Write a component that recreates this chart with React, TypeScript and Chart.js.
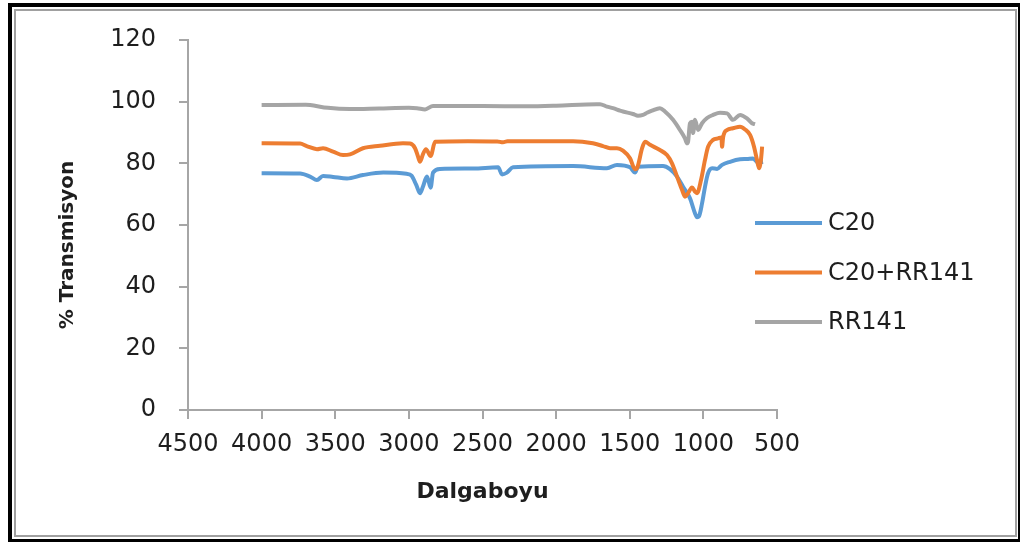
import React, { useEffect, useRef } from "react";
import { Chart, registerables } from "chart.js";

Chart.register(...registerables);

const seriesLabels = ["C20", "C20+RR141", "RR141"];
const seriesColors = ["#5B9BD5", "#ED7D31", "#A5A5A5"];

const xMin = 500;
const xMax = 4500;
const xStep = 500;
const yMin = 0;
const yMax = 120;
const yStep = 20;

const c20Wavenumbers = [
  4000, 3739, 3671, 3624, 3583, 3515, 3420, 3312, 3174, 3016, 2982, 2950, 2924, 2904, 2877, 2852, 2836, 2789,
  2564, 2394, 2367, 2334, 2293, 1885, 1655, 1587, 1498, 1464, 1444, 1274, 1227, 1179, 1138, 1091, 1057, 1043,
  1030, 1009, 989, 968, 941, 907, 873, 819, 751, 704, 663, 629, 595,
];
const c20Transmission = [
  76.8, 76.7, 75.7, 74.6, 75.9, 75.6, 75.1, 76.2, 77.0, 76.6, 76.0, 73.0, 70.3, 72.5, 75.7, 72.1, 77.0, 78.2,
  78.3, 78.7, 76.4, 77.0, 78.7, 79.1, 78.4, 79.5, 78.7, 77.0, 78.9, 79.1, 78.1, 75.7, 72.4, 68.7, 63.8, 62.5,
  62.8, 67.0, 72.4, 76.8, 78.4, 78.2, 79.5, 80.5, 81.3, 81.4, 81.6, 80.2, 80.5,
];

const mixWavenumbers = [
  4000, 3739, 3694, 3624, 3583, 3515, 3447, 3400, 3312, 3196, 3040, 2992, 2958, 2938, 2924, 2904, 2884, 2852,
  2822, 2600, 2400, 2361, 2330, 1885, 1750, 1682, 1634, 1587, 1546, 1498, 1464, 1450, 1416, 1396, 1362, 1295,
  1247, 1213, 1179, 1145, 1125, 1104, 1077, 1057, 1043, 1016, 989, 968, 934, 900, 878, 873, 866, 839, 799, 751,
  717, 683, 656, 636, 622, 608, 601,
];
const mixTransmission = [
  86.5, 86.4, 85.6, 84.6, 84.9, 83.8, 82.7, 82.9, 84.9, 85.7, 86.5, 86.4, 84.9, 82.2, 80.5, 83.0, 84.6, 82.4,
  87.0, 87.2, 87.1, 86.8, 87.2, 87.2, 86.5, 85.6, 84.9, 84.9, 84.1, 81.6, 78.1, 78.5, 84.9, 87.0, 86.0, 84.3,
  82.7, 80.0, 75.7, 71.4, 69.2, 70.3, 72.2, 70.8, 70.3, 74.6, 81.1, 85.4, 87.6, 88.1, 88.4, 85.4, 88.4, 90.8, 91.4, 91.9,
  91.0, 89.2, 85.4, 81.1, 78.4, 81.6, 85.4,
];

const rrWavenumbers = [
  4000, 3700, 3671, 3550, 3400, 3200, 3000, 2945, 2890, 2836, 2500, 2200, 2000, 1724, 1702, 1655, 1614, 1566,
  1546, 1478, 1444, 1410, 1383, 1349, 1295, 1261, 1206, 1159, 1125, 1111, 1104, 1091, 1077, 1070, 1057, 1036,
  1009, 975, 934, 887, 839, 799, 751, 704, 670, 649,
];
const rrTransmission = [
  98.9, 99.0, 98.9, 98.0, 97.6, 97.8, 98.0, 97.9, 97.5, 98.6, 98.6, 98.5, 98.7, 99.2, 99.2, 98.4, 97.9, 97.1,
  96.8, 96.0, 95.4, 95.7, 96.4, 97.1, 97.9, 96.8, 94.1, 90.8, 88.1, 86.5, 87.0, 93.0, 93.5, 89.8, 94.1, 90.8,
  93.0, 94.7, 95.7, 96.4, 96.2, 94.1, 95.7, 94.6, 93.0, 92.7,
];

const pairs = (xs: number[], ys: number[]) => xs.map((x, i) => ({ x, y: ys[i] }));

const FONT = "'DejaVu Sans', sans-serif";
const AXIS_GRAY = "#a6a6a6";
const TEXT = "#1e1e1e";

const sideLegend = {
  id: "sideLegend",
  afterDraw(chart: any) {
    const { ctx, chartArea } = chart;
    ctx.save();
    chart.data.datasets.forEach((ds: any, i: number) => {
      const y = chartArea.top + 183 + i * 49.5;
      const x0 = chartArea.right - 22;
      ctx.strokeStyle = ds.borderColor;
      ctx.lineWidth = 4;
      ctx.lineCap = "butt";
      ctx.beginPath();
      ctx.moveTo(x0, y);
      ctx.lineTo(x0 + 67, y);
      ctx.stroke();
      ctx.fillStyle = TEXT;
      ctx.font = `24px ${FONT}`;
      ctx.textBaseline = "middle";
      ctx.textAlign = "left";
      ctx.fillText(ds.label, x0 + 73, y + 1);
    });
    ctx.restore();
  },
};

export default function App() {
  const canvasRef = useRef<HTMLCanvasElement | null>(null);

  useEffect(() => {
    if (!canvasRef.current) return;
    const data = [
      pairs(c20Wavenumbers, c20Transmission),
      pairs(mixWavenumbers, mixTransmission),
      pairs(rrWavenumbers, rrTransmission),
    ];
    const chart = new Chart(canvasRef.current, {
      type: "line",
      data: {
        datasets: seriesLabels.map((label, i) => ({
          label,
          data: data[i],
          borderColor: seriesColors[i],
          backgroundColor: seriesColors[i],
          borderWidth: 4,
          pointRadius: 0,
          fill: false,
          cubicInterpolationMode: "monotone" as const,
          order: 3 - i,
        })),
      },
      options: {
        animation: false,
        responsive: false,
        layout: { padding: { left: 20, top: 40, right: 243, bottom: 0 } },
        plugins: {
          legend: { display: false },
          tooltip: { enabled: false },
        },
        scales: {
          x: {
            type: "linear",
            reverse: true,
            min: xMin,
            max: xMax,
            afterFit(s: any) {
              s.height = 132;
            },
            ticks: {
              stepSize: xStep,
              maxRotation: 0,
              autoSkip: false,
              padding: 11,
              color: TEXT,
              font: { family: FONT, size: 24 },
              callback: (v: any) => String(v),
            },
            grid: { drawOnChartArea: false, drawTicks: true, tickLength: 9, color: AXIS_GRAY, lineWidth: 2 },
            border: { color: AXIS_GRAY, width: 2 },
            title: {
              display: true,
              text: "Dalgaboyu",
              color: TEXT,
              font: { family: FONT, size: 22, weight: "bold" },
              padding: { top: 0, bottom: 37 },
            },
          },
          y: {
            min: yMin,
            max: yMax,
            afterFit(s: any) {
              s.width = 168;
            },
            ticks: {
              stepSize: yStep,
              padding: 23,
              color: TEXT,
              font: { family: FONT, size: 24 },
              callback: (v: any) => String(v),
            },
            grid: { drawOnChartArea: false, drawTicks: true, tickLength: 9, color: AXIS_GRAY, lineWidth: 2 },
            border: { color: AXIS_GRAY, width: 2 },
            title: {
              display: true,
              text: "% Transmisyon\u2002\u2002\u2002\u2002",
              color: TEXT,
              font: { family: FONT, size: 20, weight: "bold" },
              padding: { top: 36, bottom: 0 },
            },
          },
        },
      },
      plugins: [sideLegend],
    });
    return () => chart.destroy();
  }, []);

  return (
    <div>
      <div
        style={{
          position: "fixed",
          left: 8,
          top: 3,
          width: 1012,
          height: 539,
          boxSizing: "border-box",
          borderTop: "4px solid #000",
          borderLeft: "4px solid #000",
          borderRight: "2px solid #000",
          borderBottom: "3px solid #000",
          background: "#fff",
        }}
      />
      <div
        style={{
          position: "fixed",
          left: 14,
          top: 9,
          width: 1003,
          height: 528,
          boxSizing: "border-box",
          border: "2px solid #a0a0a0",
        }}
      />
      <canvas
        ref={canvasRef}
        width={1020}
        height={542}
        style={{ position: "fixed", left: 0, top: 0, width: 1020, height: 542 }}
      />
    </div>
  );
}
